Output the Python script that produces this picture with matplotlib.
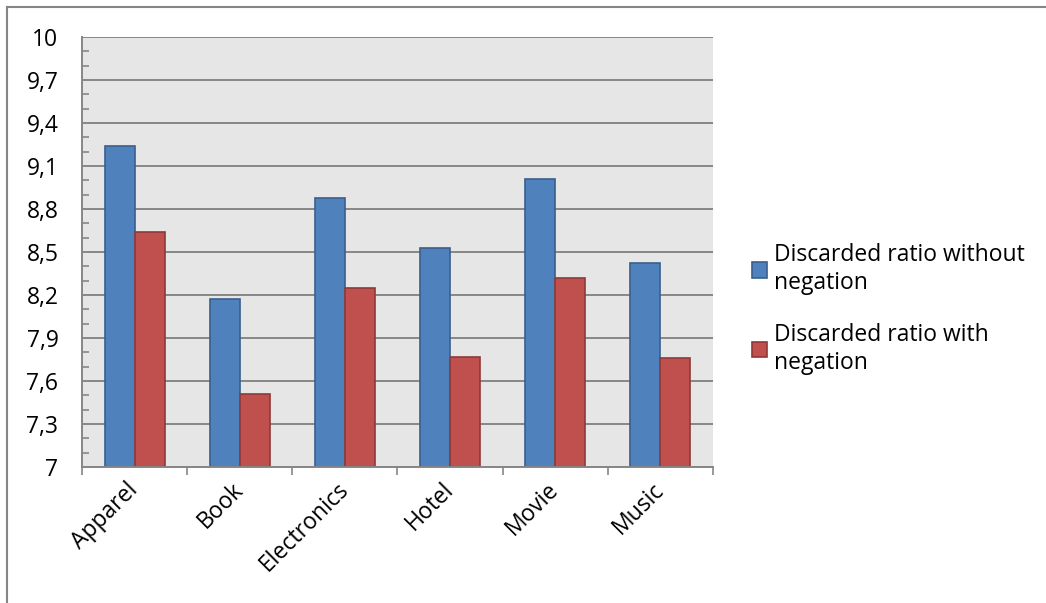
import numpy as np
import matplotlib.pyplot as plt
from matplotlib.ticker import FixedLocator, FuncFormatter
from matplotlib.lines import Line2D

# data
categories = ['Apparel', 'Book', 'Electronics', 'Hotel', 'Movie', 'Music']
without_negation = [9.24, 8.17, 8.88, 8.53, 9.01, 8.42]
with_negation = [8.64, 7.51, 8.25, 7.77, 8.32, 7.76]
series_labels = ['Discarded ratio without\nnegation', 'Discarded ratio with\nnegation']
y_ticks = [7, 7.3, 7.6, 7.9, 8.2, 8.5, 8.8, 9.1, 9.4, 9.7, 10]

plt.rcParams['font.family'] = ['Open Sans', 'DejaVu Sans']
fs = 16.5

fig = plt.figure(figsize=(10.46, 6.03), dpi=100)
ax = fig.add_axes([82 / 1046, 1 - 467 / 603, (713 - 82) / 1046, (467 - 37) / 603])

x = np.arange(len(categories))
w = 0.285
ax.bar(x - w / 2, np.array(without_negation) - 7, w, bottom=7, color='#4F81BD',
       edgecolor='#3A5F8C', linewidth=1.2, label=series_labels[0], zorder=3)
ax.bar(x + w / 2, np.array(with_negation) - 7, w, bottom=7, color='#C0504D',
       edgecolor='#8E3A38', linewidth=1.2, label=series_labels[1], zorder=3)

ax.set_facecolor('#E6E6E6')
ax.set_ylim(7, 10)
ax.set_xlim(-0.5, len(categories) - 0.5)

# y axis: major every 0.3 with comma decimals, minor every 0.1
ax.yaxis.set_major_locator(FixedLocator(y_ticks))
ax.yaxis.set_minor_locator(FixedLocator(np.arange(7, 10.01, 0.1)))
ax.yaxis.set_major_formatter(FuncFormatter(lambda v, p: f'{v:.1f}'.replace('.', ',').replace(',0', '')))
ax.tick_params(axis='y', which='major', length=0, pad=17, labelsize=fs)
ax.tick_params(axis='y', which='minor', direction='in', length=5, width=1.2, color='#868686')
ax.grid(axis='y', which='major', color='#878787', linewidth=1.4, zorder=1)

# x axis: labels at centres, tick marks at group boundaries
ax.set_xticks(x)
ax.set_xticklabels(categories, rotation=45, ha='right', va='center', rotation_mode='anchor')
ax.xaxis.set_minor_locator(FixedLocator(np.arange(-0.5, len(categories), 1.0)))
ax.tick_params(axis='x', which='major', length=0, pad=14, labelsize=fs)
ax.tick_params(axis='x', which='minor', direction='out', length=6, width=1.2, color='#868686')

for s in ['top', 'right']:
    ax.spines[s].set_visible(False)
for s in ['left', 'bottom']:
    ax.spines[s].set_color('#868686')
    ax.spines[s].set_linewidth(1.4)
    ax.spines[s].set_zorder(4)

leg = fig.legend(loc='upper left', bbox_to_anchor=(743 / 1046, 1 - 234 / 603), frameon=False,
                 fontsize=fs, handlelength=0.65, handleheight=0.65, handletextpad=0.3,
                 labelspacing=1.2, borderaxespad=0)
for t in leg.get_texts():
    t.set_linespacing(1.22)

# outer chart frame (left and top edges)
fig.add_artist(Line2D([7 / 1046, 7 / 1046], [0, 1 - 7 / 603], color='#868686', linewidth=1.5))
fig.add_artist(Line2D([7 / 1046, 1], [1 - 7 / 603, 1 - 7 / 603], color='#868686', linewidth=1.5))

fig.savefig('out.png', dpi=100, facecolor='white')
